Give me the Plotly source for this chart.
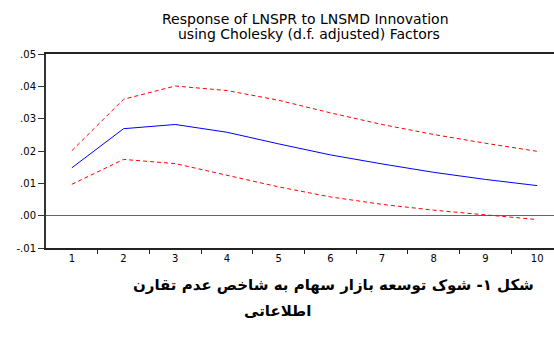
import plotly.graph_objects as go

periods = [1, 2, 3, 4, 5, 6, 7, 8, 9, 10]
response = [0.0148, 0.0269, 0.0282, 0.0258, 0.0222, 0.0188, 0.0160, 0.0134, 0.0112, 0.0093]
upper_band = [0.0201, 0.0360, 0.0401, 0.0387, 0.0357, 0.0318, 0.0282, 0.0251, 0.0224, 0.0199]
lower_band = [0.0097, 0.0174, 0.0161, 0.0126, 0.0089, 0.0058, 0.0035, 0.0017, 0.0003, -0.0012]

y_tick_values = [-0.01, 0.00, 0.01, 0.02, 0.03, 0.04, 0.05]
y_tick_labels = ["-.01", ".00", ".01", ".02", ".03", ".04", ".05"]
x_tick_labels = [str(p) for p in periods]

title_line1 = "Response of LNSPR to LNSMD Innovation"
title_line2 = "using Cholesky (d.f. adjusted) Factors"
caption_line1 = "شکل ۱- شوک توسعه بازار سهام به شاخص عدم تقارن"
caption_line2 = "اطلاعاتی"

FONT = "DejaVu Sans, Arial, sans-serif"

fig = go.Figure()
fig.add_trace(go.Scatter(x=periods, y=upper_band, mode="lines",
                         line=dict(color="#FF0000", width=1, dash="4px,3px")))
fig.add_trace(go.Scatter(x=periods, y=lower_band, mode="lines",
                         line=dict(color="#FF0000", width=1, dash="4px,3px")))
fig.add_trace(go.Scatter(x=periods, y=response, mode="lines",
                         line=dict(color="#0000FF", width=1)))

boundaries = [p + 0.5 for p in periods[:-1]]

fig.update_layout(
    width=554, height=338,
    margin=dict(l=46, r=0, t=54, b=90),
    paper_bgcolor="white", plot_bgcolor="white",
    showlegend=False,
    font=dict(family=FONT, size=10, color="black"),
    xaxis=dict(
        range=[0.5, 10.326], tickmode="array", tickvals=periods, ticktext=x_tick_labels,
        ticks="", showgrid=False, zeroline=False,
        showline=True, linecolor="#222", linewidth=1.5, mirror=True,
        tickfont=dict(family=FONT, size=10, color="black"),
        minor=dict(tickmode="array", tickvals=boundaries, ticks="outside",
                   ticklen=4, tickcolor="#222", tickwidth=1, showgrid=False),
    ),
    yaxis=dict(
        range=[-0.01, 0.05], tickmode="array", tickvals=y_tick_values, ticktext=y_tick_labels,
        ticks="outside", ticklen=6, tickcolor="#333", tickwidth=1,
        showgrid=False, zeroline=True, zerolinecolor="#666", zerolinewidth=1,
        showline=True, linecolor="#333", linewidth=2,
        tickfont=dict(family=FONT, size=10, color="black"),
    ),
    annotations=[
        dict(text=title_line1, xref="paper", yref="paper", x=0.511, y=1.180,
             showarrow=False, xanchor="center", yanchor="middle",
             font=dict(family=FONT, size=14, color="black")),
        dict(text=title_line2, xref="paper", yref="paper", x=0.517, y=1.105,
             showarrow=False, xanchor="center", yanchor="middle",
             font=dict(family=FONT, size=14, color="black")),
        dict(text="<b>" + caption_line1 + "</b>", xref="paper", yref="paper", x=0.565, y=-0.193,
             showarrow=False, xanchor="center", yanchor="middle",
             font=dict(family=FONT, size=15, color="black")),
        dict(text="<b>" + caption_line2 + "</b>", xref="paper", yref="paper", x=0.455, y=-0.327,
             showarrow=False, xanchor="center", yanchor="middle",
             font=dict(family=FONT, size=15, color="black")),
    ],
)

fig.write_html("out.html")
